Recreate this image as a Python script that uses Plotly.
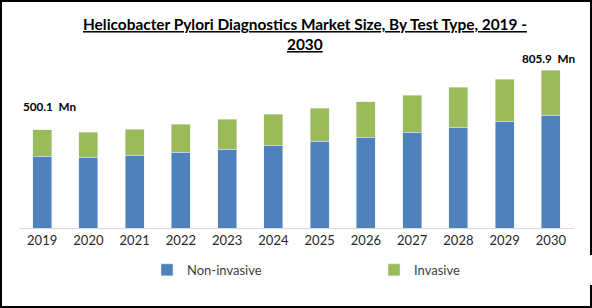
import plotly.graph_objects as go

years = ["2019", "2020", "2021", "2022", "2023", "2024", "2025", "2026", "2027", "2028", "2029", "2030"]
non_invasive = [366, 361, 371, 387, 402, 422, 443, 463, 489, 515, 545, 576]
invasive = [134.1, 128, 133, 143, 154, 159, 169, 180, 189, 204, 215, 229.9]
labels = {"2019": "500.1  Mn", "2030": "805.9  Mn"}
title_lines = ["Helicobacter Pylori Diagnostics Market Size, By Test Type, 2019 -", "2030"]

W, H = 592, 308
L, R, T, B = 19, 18, 60, 80
pw, ph = W - L - R, H - T - B

FONT = "Lato, Noto Sans, sans-serif"

fig = go.Figure()
fig.add_trace(go.Bar(x=years, y=non_invasive, name="Non-invasive", marker_color="#4F81BD"))
fig.add_trace(go.Bar(x=years, y=invasive, name="Invasive", marker_color="#9BBB59"))

fig.update_layout(
    width=W, height=H,
    margin=dict(l=L, r=R, t=T, b=B, autoexpand=False),
    barmode="stack", bargap=0.59,
    plot_bgcolor="white", paper_bgcolor="white",
    font=dict(family=FONT, color="#262626", size=13),
    showlegend=True,
    legend=dict(orientation="h", x=(147 - L) / pw, xanchor="left", y=-0.16, yanchor="top",
                entrywidth=182, entrywidthmode="pixels",
                font=dict(size=13, color="#404040"), itemclick=False, traceorder="normal"),
    xaxis=dict(type="category", showgrid=False, showline=True, linecolor="#D9D9D9", linewidth=1,
               ticks="", tickfont=dict(size=13, color="#262626"), range=[-0.5, 11.5]),
    yaxis=dict(visible=False, range=[0, 857]),
)

for j, (line, ypix) in enumerate(zip(title_lines, [24, 44])):
    fig.add_annotation(xref="paper", yref="paper", x=(305 - L) / pw, y=1 + (T - ypix) / ph,
                       text="<b><u>" + line + "</u></b>", showarrow=False,
                       xanchor="center", yanchor="middle",
                       font=dict(family=FONT, size=15.4, color="#000000"))

totals = [a + b for a, b in zip(non_invasive, invasive)]
for yr, txt in labels.items():
    i = years.index(yr)
    fig.add_annotation(x=i, y=totals[i], yref="y", xref="x", text="<b>" + txt + "</b>",
                       showarrow=False, yshift=24 if yr == "2019" else 12,
                       xshift=7 if yr == "2019" else -2,
                       font=dict(size=11.7, color="#000000"))

fig.add_shape(type="rect", xref="paper", yref="paper",
              x0=-(L - 1) / pw, x1=1 + (R - 1) / pw, y0=-(B - 1) / ph, y1=1 + (T - 1) / ph,
              line=dict(color="black", width=2))

fig.write_html("out.html")
